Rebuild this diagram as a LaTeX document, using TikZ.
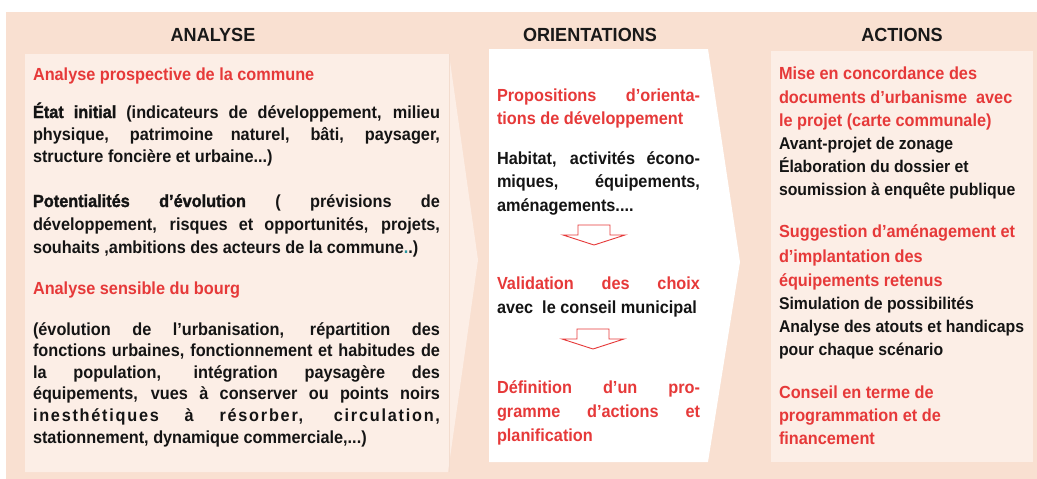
\documentclass[tikz,border=0pt]{standalone}
\usepackage{fontspec}
\setmainfont{Liberation Sans}
\newfontfamily\regf{Liberation Sans Bold}[FakeStretch=0.95]
\newfontfamily\medf{Liberation Sans Bold}[FakeStretch=0.93]
\newfontfamily\boldf{Liberation Sans Bold}[FakeStretch=0.93, FakeBold=1.5]
\definecolor{peach}{RGB}{249,224,209}
\definecolor{lightp}{RGB}{252,238,230}
\definecolor{myred}{RGB}{230,57,57}
\definecolor{faint}{RGB}{243,220,206}
\definecolor{teal}{RGB}{40,150,160}
\newcommand\jl[2]{\hbox to #1pt{#2}}
\tikzset{
  ttl/.style={anchor=base, inner sep=0pt, font=\regf\fontsize{19}{22}\selectfont, text=black!90},
  ln/.style={anchor=base west, inner sep=0pt, outer sep=0pt},
  rd/.style={ln, text=myred, font=\medf\fontsize{17.5}{21}\selectfont},
  bk/.style={ln, text=black!92, font=\medf\fontsize{17.5}{21}\selectfont},
  bks/.style={ln, text=black!92, font=\medf\fontsize{17}{21}\selectfont},
  harrow/.pic={\draw[myred, line width=0.9pt, fill=white] (-16,0) -- (16,0) -- (16,10) -- (31,10) -- (0,20) -- (-31,10) -- (-16,10) -- cycle;}
}
\begin{document}
\begin{tikzpicture}[x=1pt, y=-1pt]
\useasboundingbox (0,0) rectangle (1037,479);
% backgrounds
\fill[peach] (6,12) rectangle (1037,479);
\fill[lightp] (25,54) -- (449,54) -- (478,260) -- (448,472) -- (25,472) -- cycle;
\draw[faint, line width=0.6pt] (449,54) -- (449,472);
\fill[white] (489,49) -- (708,49) -- (740,262) -- (708,462) -- (489,462) -- cycle;
\fill[lightp] (771,51) rectangle (1033,462);
% titles
\node[ttl] (t1) at (213,41) {ANALYSE};
\node[ttl] (t2) at (590,41) {ORIENTATIONS};
\node[ttl] (t3) at (902,41) {ACTIONS};
% left panel
\node[rd] (a1) at (33,80) {Analyse prospective de la commune};
\node[bk] (a2) at (33,118) {\jl{407}{{\boldf État initial} (indicateurs de développement, milieu}};
\node[bk] (a3) at (33,140) {\jl{407}{physique, patrimoine naturel, bâti, paysager,}};
\node[bk] (a4) at (33,162) {structure foncière et urbaine...)};
\node[bk] (a5) at (33,207) {\jl{407}{{\boldf Potentialités d’évolution} ( prévisions de}};
\node[bk] (a6) at (33,230) {\jl{407}{développement, risques et opportunités, projets,}};
\node[bk] (a7) at (33,253) {souhaits ,ambitions des acteurs de la commune{\color{teal}.}.)};
\node[rd] (a8) at (33,294) {Analyse sensible du bourg};
\node[bk] (a9) at (33,335) {\jl{407}{(évolution de l’urbanisation, répartition des}};
\node[bk] (a10) at (33,356) {\jl{407}{fonctions urbaines, fonctionnement et habitudes de}};
\node[bk] (a11) at (33,378) {\jl{407}{la population, intégration paysagère des}};
\node[bk] (a12) at (33,399) {\jl{407}{équipements, vues à conserver ou points noirs}};
\node[bk] (a13) at (33,421) {\jl{407}{\addfontfeature{LetterSpace=10}inesthétiques à résorber, circulation,}};
\node[bk] (a14) at (33,443) {stationnement, dynamique commerciale,...)};
% middle panel
\node[rd] (b1) at (497,101) {\jl{203}{Propositions d’orienta-}};
\node[rd] (b2) at (497,124) {tions de développement};
\node[bk] (b3) at (497,164) {\jl{203}{Habitat, activités écono-}};
\node[bk] (b4) at (497,187) {\jl{203}{miques, équipements,}};
\node[bk] (b5) at (497,211) {aménagements....};
\coordinate (ar1) at (594,225);
\pic at (ar1) {harrow};
\node[rd] (b6) at (497,289) {\jl{203}{Validation des choix}};
\node[bk] (b7) at (497,313) {avec\ \ le conseil municipal};
\coordinate (ar2) at (593,329);
\pic at (ar2) {harrow};
\node[rd] (b8) at (497,393) {\jl{203}{Définition d’un pro-}};
\node[rd] (b9) at (497,417) {\jl{203}{gramme d’actions et}};
\node[rd] (b10) at (497,441) {planification};
% right panel
\node[rd] (c1) at (779,79) {Mise en concordance des};
\node[rd] (c2) at (779,103) {documents d’urbanisme\ \ avec};
\node[rd] (c3) at (779,126) {le projet (carte communale)};
\node[bks] (c4) at (779,149) {Avant-projet de zonage};
\node[bks] (c5) at (779,172) {Élaboration du dossier et};
\node[bks] (c6) at (779,195) {soumission à enquête publique};
\node[rd] (c7) at (779,237) {Suggestion d’aménagement et};
\node[rd] (c8) at (779,262) {d’implantation des};
\node[rd] (c9) at (779,286) {équipements retenus};
\node[bks] (c10) at (779,309) {Simulation de possibilités};
\node[bks] (c11) at (779,332) {Analyse des atouts et handicaps};
\node[bks] (c12) at (779,355) {pour chaque scénario};
\node[rd] (c13) at (779,398) {Conseil en terme de};
\node[rd] (c14) at (779,421) {programmation et de};
\node[rd] (c15) at (779,444) {financement};
\end{tikzpicture}
\end{document}
